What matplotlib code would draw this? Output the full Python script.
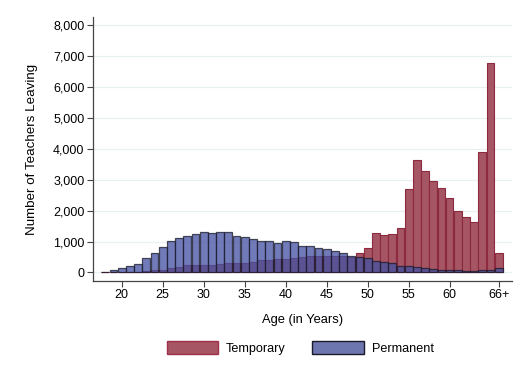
import numpy as np
import matplotlib
matplotlib.use("Agg")
import matplotlib.pyplot as plt
from matplotlib.patches import Patch

plt.rcParams['font.family'] = ['Liberation Sans', 'DejaVu Sans']

ages = np.arange(18, 67)

# number of teachers leaving, by age (66 = 66+)
permanent = [25, 70, 155, 205, 290, 460, 625, 820, 1030, 1110,
             1170, 1250, 1300, 1260, 1300, 1300, 1180, 1145, 1080, 1025,
             1025, 960, 1015, 985, 865, 845, 790, 770, 695, 620,
             530, 485, 455, 375, 330, 295, 225, 220, 170, 160,
             120, 80, 70, 65, 55, 50, 65, 80, 130]
temporary = [0, 5, 25, 25, 25, 40, 70, 90, 150, 170,
             230, 240, 250, 250, 275, 295, 305, 320, 350, 390,
             390, 420, 435, 455, 510, 530, 540, 540, 520, 520,
             500, 620, 800, 1285, 1215, 1240, 1445, 2700, 3640, 3270,
             2940, 2720, 2420, 1990, 1790, 1640, 3880, 6760, 620]

xticks = [20, 25, 30, 35, 40, 45, 50, 55, 60, 66]
xticklabels = ['20', '25', '30', '35', '40', '45', '50', '55', '60', '66+']

red_face = '#a55564'
red_edge = '#8e2a3f'
blue_face = '#4452a3'
blue_edge = '#1a1a2a'

fig = plt.figure(figsize=(5.22, 3.76), dpi=100)
ax = fig.add_axes([0.1776, 0.2527, 0.8024, 0.7021])

ax.bar(ages, temporary, width=0.95, color=red_face, edgecolor=red_edge, linewidth=0.8, zorder=2)
ax.bar(ages, permanent, width=0.95, color=blue_face, alpha=0.76, edgecolor=blue_edge, linewidth=0.9, zorder=3)

ax.set_xlim(16.46, 67.56)
ax.set_ylim(-274, 8250)
ax.set_yticks(np.arange(0, 8001, 1000))
ax.set_yticklabels(['{:,}'.format(v) for v in range(0, 8001, 1000)])
ax.set_xticks(xticks)
ax.set_xticklabels(xticklabels)

ax.grid(axis='y', color='#e8f0f1', linewidth=0.9, zorder=0)
ax.set_axisbelow(True)
for s in ['top', 'right']:
    ax.spines[s].set_visible(False)
for s in ['left', 'bottom']:
    ax.spines[s].set_color('#444444')
    ax.spines[s].set_linewidth(0.9)
ax.tick_params(direction='out', length=4, width=0.8, color='#444444', labelsize=9.0, pad=2)

ax.set_xlabel('Age (in Years)', fontsize=9.3, labelpad=9)
ax.set_ylabel('Number of Teachers Leaving', fontsize=9.6, labelpad=11)

handles = [Patch(facecolor=red_face, edgecolor='#a0304a', linewidth=1.0, label='Temporary'),
           Patch(facecolor='#6e76af', edgecolor=blue_edge, linewidth=1.0, label='Permanent')]
fig.legend(handles=handles, loc='center', bbox_to_anchor=(0.575, 0.074), ncol=2, frameon=False,
           fontsize=9.1, handlelength=4.1, handleheight=1.1, columnspacing=2.1, handletextpad=0.6)

fig.savefig('out.png', dpi=100)
